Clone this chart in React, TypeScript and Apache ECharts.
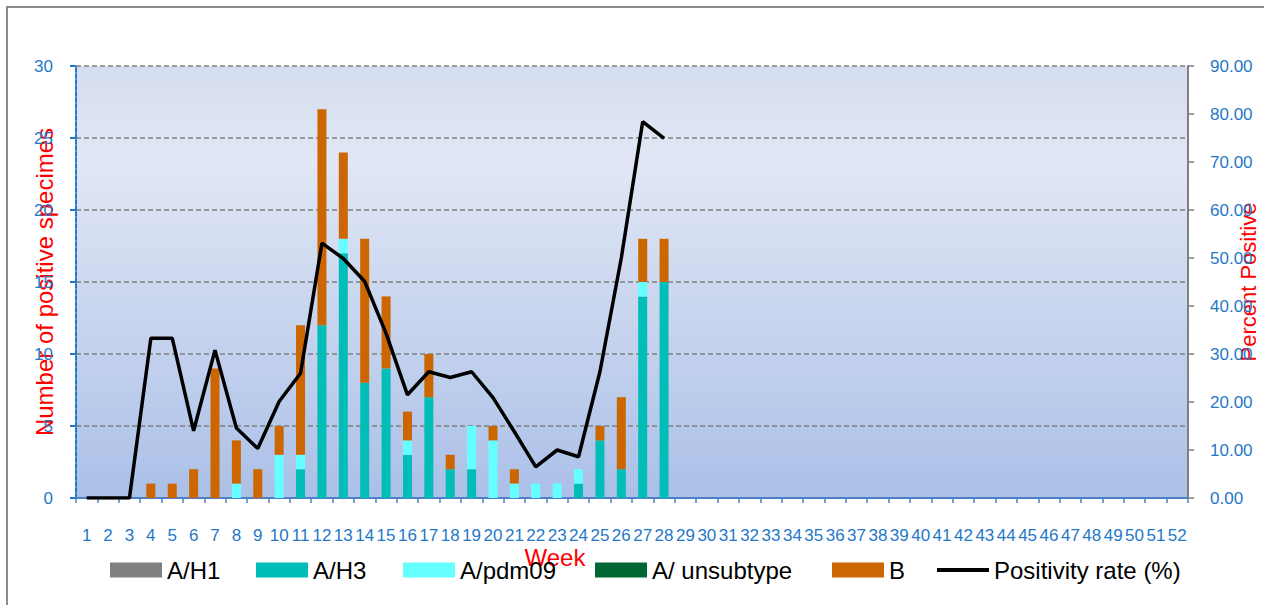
import React, { useEffect, useRef } from "react";
import * as echarts from "echarts";

const weeks: string[] = Array.from({ length: 52 }, (_, i) => String(i + 1));

const aH1: (number | null)[] = [0,0,0,0,0,0,0,0,0,0,0,0,0,0,0,0,0,0,0,0,0,0,0,0,0,0,0,0];
const aH3: (number | null)[] = [0,0,0,0,0,0,0,0,0,0,2,12,17,8,9,3,7,2,2,0,0,0,0,1,4,2,14,15];
const aPdm09: (number | null)[] = [0,0,0,0,0,0,0,1,0,3,1,0,1,0,0,1,0,0,3,4,1,1,1,1,0,0,1,0];
const aUnsub: (number | null)[] = [0,0,0,0,0,0,0,0,0,0,0,0,0,0,0,0,0,0,0,0,0,0,0,0,0,0,0,0];
const bVals: (number | null)[] = [0,0,0,1,1,2,9,3,2,2,9,15,6,10,5,2,3,1,0,1,1,0,0,0,1,5,3,3];
const positivity: (number | null)[] = [0,0,0,33.3,33.3,14.0,30.8,14.6,10.3,20.1,26.0,53.1,49.9,45.1,34.3,21.5,26.3,25.1,26.3,20.9,13.8,6.5,10.0,8.6,26.3,50.0,78.4,74.9];

const leftTicks = { min: 0, max: 30, interval: 5 };
const rightTicks = { min: 0, max: 90, interval: 10 };

const BLUE = "#1f78c8";
const FONT = "'Liberation Sans', Arial, sans-serif";

export default function App() {
  const ref = useRef<HTMLDivElement>(null);
  useEffect(() => {
    if (!ref.current) return;
    const chart = echarts.init(ref.current, undefined, { renderer: "svg" });
    const legendBase = {
      top: 553,
      itemWidth: 52,
      itemHeight: 15,
      icon: "rect",
      textStyle: { fontSize: 24, color: "#000", fontFamily: FONT },
      selectedMode: false,
    };
    chart.setOption({
      animation: false,
      backgroundColor: "#fff",
      textStyle: { fontFamily: FONT },
      graphic: [
        {
          type: "rect",
          shape: { x: 7, y: 7, width: 1270, height: 610 },
          style: { fill: "none", stroke: "#8c8c8c", lineWidth: 2 },
          silent: true,
        },
      ],
      grid: {
        left: 76,
        right: 76,
        top: 66,
        bottom: 107,
        containLabel: false,
        outerBoundsMode: "none",
        show: true,
        borderWidth: 0,
        backgroundColor: {
          type: "linear",
          x: 0, y: 0, x2: 0, y2: 1,
          colorStops: [
            { offset: 0, color: "#d4ddef" },
            { offset: 0.22, color: "#e1e7f4" },
            { offset: 1, color: "#abc0e8" },
          ],
        },
      },
      legend: [
        { ...legendBase, left: 105, data: ["A/H1"] },
        { ...legendBase, left: 251, data: ["A/H3"] },
        { ...legendBase, left: 398, data: ["A/pdm09"] },
        { ...legendBase, left: 590, data: ["A/ unsubtype"] },
        { ...legendBase, left: 827, data: ["B"] },
        {
          ...legendBase,
          left: 932,
          itemHeight: 4,
          data: [{ name: "Positivity rate (%)", icon: "rect", itemStyle: { color: "#000" } }],
        },
      ],
      xAxis: {
        type: "category",
        data: weeks,
        name: "Week",
        nameLocation: "middle",
        nameGap: 47,
        nameMoveOverlap: false,
        nameTextStyle: { color: "#ff0000", fontSize: 24, fontFamily: FONT, padding: [0, 154, 0, 0] },
        axisLine: { lineStyle: { color: "#4f81c4", width: 2 } },
        axisTick: { show: true, length: 5, lineStyle: { color: "#4f81c4", width: 1.5 } },
        axisLabel: { color: BLUE, fontSize: 17, margin: 29, interval: 0, fontFamily: FONT },
        splitLine: { show: false },
      },
      yAxis: [
        {
          type: "value",
          ...leftTicks,
          name: "Number of positive specimes",
          nameLocation: "middle",
          nameGap: 20,
          nameRotate: 90,
          nameMoveOverlap: false,
          nameTextStyle: { color: "#ff0000", fontSize: 24, fontFamily: FONT },
          axisLine: { show: true, lineStyle: { color: "#1f78c8", width: 2, type: [4, 2] } },
          axisTick: { show: true, length: 6, lineStyle: { color: "#1f78c8", width: 2 } },
          axisLabel: { color: BLUE, fontSize: 17, margin: 23, fontFamily: FONT },
          splitLine: { show: true, lineStyle: { color: "#808080", width: 1.5, type: [5, 3] } },
        },
        {
          type: "value",
          ...rightTicks,
          position: "right",
          name: "Percent Positive",
          nameLocation: "middle",
          nameGap: 49,
          nameRotate: 90,
          nameMoveOverlap: false,
          nameTextStyle: { color: "#ff0000", fontSize: 22, fontFamily: FONT },
          axisLine: { show: true, lineStyle: { color: "#808080", width: 2 } },
          axisTick: { show: true, length: 6, lineStyle: { color: "#808080", width: 1.5 } },
          axisLabel: {
            color: BLUE,
            fontSize: 17,
            margin: 22,
            fontFamily: FONT,
            formatter: (v: number) => v.toFixed(2),
          },
          splitLine: { show: false },
        },
      ],
      series: [
        { name: "A/H1", type: "bar", stack: "s", barWidth: 9, data: aH1, itemStyle: { color: "#808080" } },
        { name: "A/H3", type: "bar", stack: "s", barWidth: 9, data: aH3, itemStyle: { color: "#00bdb8" } },
        { name: "A/pdm09", type: "bar", stack: "s", barWidth: 9, data: aPdm09, itemStyle: { color: "#66ffff" } },
        { name: "A/ unsubtype", type: "bar", stack: "s", barWidth: 9, data: aUnsub, itemStyle: { color: "#006633" } },
        { name: "B", type: "bar", stack: "s", barWidth: 9, data: bVals, itemStyle: { color: "#cc6600" } },
        {
          name: "Positivity rate (%)",
          type: "line",
          yAxisIndex: 1,
          data: positivity,
          symbol: "none",
          showSymbol: false,
          lineStyle: { color: "#000", width: 3.5 },
          itemStyle: { color: "#000" },
          z: 5,
        },
      ],
    });
    return () => chart.dispose();
  }, []);
  return (
    <div
      ref={ref}
      style={{ position: "fixed", left: 0, top: 0, width: 1264, height: 605 }}
    />
  );
}
